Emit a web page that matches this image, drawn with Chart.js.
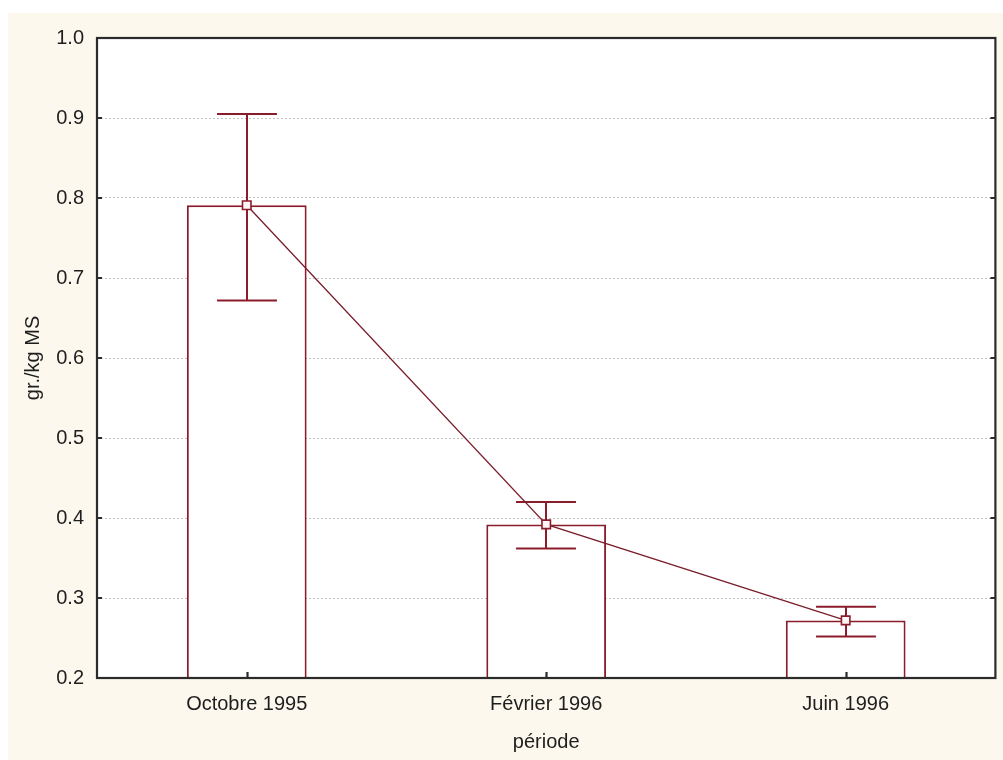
<!DOCTYPE html>
<html>
<head>
<meta charset="utf-8">
<title>gr./kg MS par période</title>
<script src="https://cdn.jsdelivr.net/npm/chart.js@4/dist/chart.umd.min.js"></script>
<style>
  html, body { margin: 0; padding: 0; background: #ffffff; width: 1003px; height: 760px; overflow: hidden; }
  #frame { position: absolute; left: 8px; top: 13px; width: 995px; height: 747px; background: #fcf8ee; }
  canvas { display: block; }
</style>
</head>
<body>
<div id="frame"><canvas id="chart" width="995" height="747"></canvas></div>
<script>
// Sampling periods and mean concentration (gr./kg MS) with their interval bounds
const periods = ['Octobre 1995', 'Février 1996', 'Juin 1996'];
const means = [0.791, 0.392, 0.272];
const lowerBounds = [0.672, 0.362, 0.252];
const upperBounds = [0.905, 0.420, 0.289];
const yTickValues = [0.2, 0.3, 0.4, 0.5, 0.6, 0.7, 0.8, 0.9, 1.0];

const DARK_RED = '#8b1c2b';
const TEXT = '#1e1e1e';
const FONT = { family: '"Liberation Sans", Arial, sans-serif', size: 20 };

// Whiskers drawn right after the bars, below the mean line
const errorBars = {
  id: 'errorBars',
  afterDatasetDraw(chart, args) {
    if (args.index !== 0) return;
    const { ctx } = chart;
    const y = chart.scales.y;
    ctx.save();
    ctx.strokeStyle = DARK_RED;
    ctx.lineWidth = 2;
    args.meta.data.forEach((bar, i) => {
      const x = Math.round(bar.x);
      const half = bar.width / 4;
      const yTop = y.getPixelForValue(upperBounds[i]);
      const yBot = y.getPixelForValue(lowerBounds[i]);
      ctx.beginPath();
      ctx.moveTo(x, yTop); ctx.lineTo(x, yBot);
      ctx.moveTo(x - half, yTop); ctx.lineTo(x + half, yTop);
      ctx.moveTo(x - half, yBot); ctx.lineTo(x + half, yBot);
      ctx.stroke();
    });
    ctx.restore();
  }
};

// Closed plot frame with small inward tick marks
const plotFrame = {
  id: 'plotFrame',
  beforeDatasetsDraw(chart) {
    const { ctx, chartArea: a } = chart;
    ctx.save();
    ctx.fillStyle = '#ffffff';
    ctx.globalCompositeOperation = 'destination-over';
    ctx.fillRect(a.left, a.top, a.right - a.left, a.bottom - a.top);
    ctx.restore();
  },
  afterDraw(chart) {
    const { ctx, chartArea: a, scales: { x, y } } = chart;
    ctx.save();
    ctx.strokeStyle = '#2b2b2b';
    ctx.lineWidth = 2.2;
    ctx.strokeRect(a.left, a.top, a.right - a.left, a.bottom - a.top);
    ctx.beginPath();
    y.ticks.forEach(t => {
      const py = y.getPixelForValue(t.value);
      ctx.moveTo(a.left, py); ctx.lineTo(a.left + 5, py);
      ctx.moveTo(a.right, py); ctx.lineTo(a.right - 5, py);
    });
    x.ticks.forEach((t, i) => {
      const px = Math.round(x.getPixelForTick(i)) + 0.5;
      ctx.moveTo(px, a.bottom); ctx.lineTo(px, a.bottom - 6);
    });
    ctx.stroke();
    ctx.restore();
  }
};

new Chart(document.getElementById('chart'), {
  data: {
    labels: periods,
    datasets: [
      {
        type: 'bar',
        data: means,
        order: 2,
        backgroundColor: '#ffffff',
        borderColor: DARK_RED,
        borderWidth: 2,
        barPercentage: 0.4,
        categoryPercentage: 1.0
      },
      {
        type: 'line',
        data: means,
        order: 1,
        borderColor: '#7a1e2c',
        borderWidth: 1.3,
        tension: 0,
        pointStyle: 'rect',
        pointRadius: 6,
        pointBackgroundColor: '#fff5f7',
        pointBorderColor: DARK_RED,
        pointBorderWidth: 1.6
      }
    ]
  },
  options: {
    responsive: false,
    animation: false,
    devicePixelRatio: 1,
    layout: { padding: { top: 25, right: 4, left: 0, bottom: 0 } },
    plugins: { legend: { display: false }, tooltip: { enabled: false } },
    scales: {
      x: {
        type: 'category',
        offset: true,
        grid: { display: false, drawTicks: false },
        border: { display: false },
        ticks: { font: FONT, color: TEXT, padding: 14, maxRotation: 0 },
        title: { display: true, text: 'période', font: FONT, color: TEXT, padding: { top: 0, bottom: 6 } },
        afterFit(scale) {
          scale.height = 82;
          scale.paddingLeft = 0;
          scale.paddingRight = 0;
        }
      },
      y: {
        min: 0.2,
        max: 1.0,
        afterBuildTicks(scale) { scale.ticks = yTickValues.map(v => ({ value: v })); },
        ticks: { font: FONT, color: TEXT, padding: 13, callback: v => Number(v).toFixed(1) },
        grid: { color: '#c2c2c2', lineWidth: 1, drawTicks: false },
        border: { display: false, dash: [2, 2] },
        title: { display: true, text: 'gr./kg MS', font: FONT, color: TEXT, padding: { top: 13, bottom: 0 } },
        afterFit(scale) { scale.width = 89; }
      }
    }
  },
  plugins: [errorBars, plotFrame]
});
</script>
</body>
</html>
